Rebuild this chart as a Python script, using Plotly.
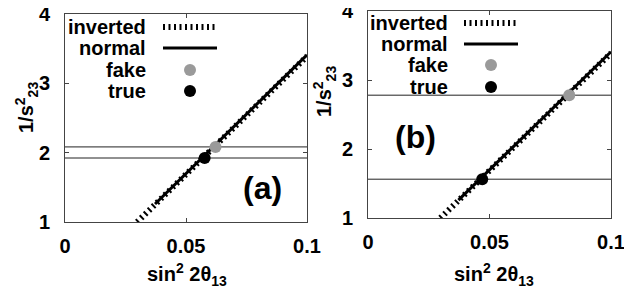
import plotly.graph_objects as go

# ---- data ----
x_ticks = [0, 0.05, 0.1]
x_ticklabels = ["0", "0.05", "0.1"]
y_ticks = [1, 2, 3, 4]
y_ticklabels = ["1", "2", "3", "4"]

# degeneracy line (same in both panels)
inv_x = [0.0298, 0.1]
inv_y = [1.0, 3.39]
norm_x = [0.0372, 0.1]
norm_y = [1.26, 3.41]

# panel (a)
a_hlines = [2.083, 1.923]
a_fake = (0.0622, 2.083)
a_true = (0.0577, 1.923)
# panel (b)
b_hlines = [2.78, 1.5625]
b_fake = (0.0828, 2.78)
b_true = (0.0470, 1.5625)

FONT = "Liberation Sans, Arial, sans-serif"
OFF = 8  # page body margin in the browser
W, H = 632 - OFF, 289 - OFF

fig = go.Figure()

panels = [
    dict(xa="x", ya="y", hl=a_hlines, fake=a_fake, true=a_true),
    dict(xa="x2", ya="y2", hl=b_hlines, fake=b_fake, true=b_true),
]
for p in panels:
    for h in p["hl"]:
        fig.add_trace(go.Scatter(x=[0, 0.1], y=[h, h], mode="lines",
                                 line=dict(color="#222", width=1),
                                 xaxis=p["xa"], yaxis=p["ya"], showlegend=False))
    fig.add_trace(go.Scatter(x=inv_x, y=inv_y, mode="lines",
                             line=dict(color="black", width=6, dash="2px,3.5px"),
                             xaxis=p["xa"], yaxis=p["ya"], showlegend=False))
    fig.add_trace(go.Scatter(x=norm_x, y=norm_y, mode="lines",
                             line=dict(color="black", width=3),
                             xaxis=p["xa"], yaxis=p["ya"], showlegend=False))
    fig.add_trace(go.Scatter(x=[p["fake"][0]], y=[p["fake"][1]], mode="markers",
                             marker=dict(color="#9a9a9a", size=12),
                             xaxis=p["xa"], yaxis=p["ya"], showlegend=False))
    fig.add_trace(go.Scatter(x=[p["true"][0]], y=[p["true"][1]], mode="markers",
                             marker=dict(color="black", size=12),
                             xaxis=p["xa"], yaxis=p["ya"], showlegend=False))

def px(xp):
    return (xp - OFF) / W
def py(yp):
    return 1 - (yp - OFF) / H

TF = dict(family=FONT, size=20, color="black", weight="bold")
ax_common = dict(range=[0, 0.1], tickvals=x_ticks, ticktext=x_ticklabels,
                 ticks="inside", ticklen=4, mirror="ticks", showline=True,
                 linecolor="#444", linewidth=1, tickcolor="#444", showgrid=False,
                 zeroline=False, tickfont=TF, ticklabelstandoff=6, automargin=False,
                 ticklabeloverflow="allow")
ay_common = dict(range=[1, 4], tickvals=y_ticks, ticktext=y_ticklabels,
                 ticks="inside", ticklen=4, mirror="ticks", showline=True,
                 linecolor="#444", linewidth=1, tickcolor="#444", showgrid=False,
                 zeroline=False, tickfont=TF, ticklabelstandoff=10, automargin=False,
                 ticklabeloverflow="allow")

fig.update_layout(
    width=W, height=H, margin=dict(l=0, r=0, t=0, b=0, pad=0), autosize=False,
    plot_bgcolor="white", paper_bgcolor="white",
    xaxis=dict(domain=[px(65), px(307)], anchor="y", **ax_common),
    yaxis=dict(domain=[py(222), py(14)], anchor="x", **ay_common),
    xaxis2=dict(domain=[px(368), px(611)], anchor="y2", **ax_common),
    yaxis2=dict(domain=[py(218), py(11)], anchor="x2", **ay_common),
)

anns = []
shapes = []
leg_a = dict(tx=148, ys=[27, 48, 70, 91], sx0=163, sx1=217)
leg_b = dict(tx=450, ys=[23, 44, 65, 87], sx0=464, sx1=518)
labels = ["inverted", "normal", "fake", "true"]
for L in (leg_a, leg_b):
    for lab, yy in zip(labels, L["ys"]):
        anns.append(dict(x=px(L["tx"]), y=py(yy), xref="paper", yref="paper",
                         text=lab, showarrow=False, xanchor="right", yanchor="middle",
                         font=TF))
    y0 = py(L["ys"][0]); y1 = py(L["ys"][1])
    shapes.append(dict(type="line", xref="paper", yref="paper", x0=px(L["sx0"]), x1=px(L["sx1"]),
                       y0=y0, y1=y0, line=dict(color="black", width=6, dash="2px,3.5px")))
    shapes.append(dict(type="line", xref="paper", yref="paper", x0=px(L["sx0"]), x1=px(L["sx1"]),
                       y0=y1, y1=y1, line=dict(color="black", width=3)))
    cx = (L["sx0"] + L["sx1"]) / 2
    for yy, col in ((L["ys"][2], "#9a9a9a"), (L["ys"][3], "black")):
        r = 6
        shapes.append(dict(type="circle", xref="paper", yref="paper",
                           x0=px(cx - r), x1=px(cx + r), y0=py(yy + r), y1=py(yy - r),
                           fillcolor=col, line=dict(color=col, width=0)))

# panel labels
PF = dict(family=FONT, size=32, color="black", weight="bold")
for t, cx, cy in (("(a)", 262, 188), ("(b)", 415, 137)):
    anns.append(dict(x=px(cx), y=py(cy), xref="paper", yref="paper", text=t, showarrow=False,
                     xanchor="center", yanchor="middle", font=PF))
# axis titles
for cx, cy in ((187, 274), (494, 274)):
    anns.append(dict(x=px(cx), y=py(cy), xref="paper", yref="paper",
                     text="sin<sup>2</sup> 2θ<sub>13</sub>", showarrow=False,
                     xanchor="center", yanchor="middle", font=TF))
for cx, cy in ((27, 108), (325, 92)):
    anns.append(dict(x=px(cx), y=py(cy), xref="paper", yref="paper",
                     text="1/s<sup>2</sup><sub>23</sub>", showarrow=False, textangle=-90,
                     xanchor="center", yanchor="middle", font=TF))

fig.update_layout(annotations=anns, shapes=shapes)
fig.write_html("out.html")
